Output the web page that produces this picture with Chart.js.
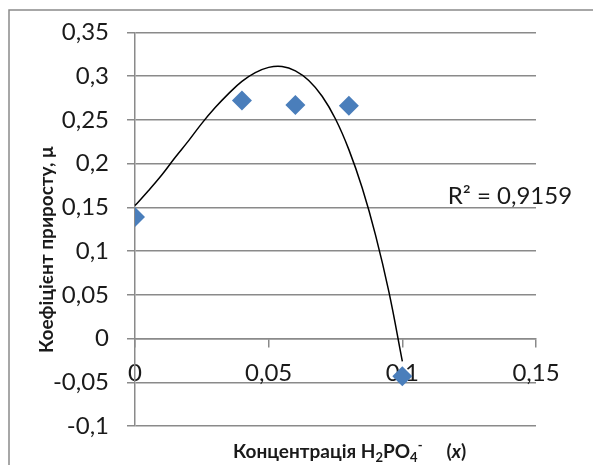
<!DOCTYPE html>
<html>
<head>
<meta charset="utf-8">
<script src="https://cdn.jsdelivr.net/npm/chart.js@4"></script>
<style>
  body { margin: 0; background: #fff; }
  canvas { display: block; }
</style>
</head>
<body>
<canvas id="grafico" width="593" height="465"></canvas>
<script>
// Дані точок
const concentration = [0, 0.04, 0.06, 0.08, 0.1];
const growthRate = [0.139, 0.272, 0.267, 0.266, -0.043];

// Лінія тренду, зчитана з рисунка через кожні 0,005
const trendX = [0, 0.005, 0.01, 0.015, 0.02, 0.025, 0.03, 0.035, 0.04, 0.045, 0.05,
  0.055, 0.06, 0.065, 0.07, 0.075, 0.08, 0.085, 0.09, 0.095, 0.1];
const trendY = [0.152, 0.169, 0.187, 0.207, 0.226, 0.246, 0.264, 0.28, 0.294, 0.304, 0.31,
  0.311, 0.306, 0.295, 0.277, 0.251, 0.216, 0.172, 0.118, 0.053, -0.026];

// Підписи осей
const xTicks = [0, 0.05, 0.1, 0.15];
const yTicks = [-0.1, -0.05, 0, 0.05, 0.1, 0.15, 0.2, 0.25, 0.3, 0.35];
const r2Label = "R² = 0,9159";
const yTitle = "Коефіцієнт приросту, μ";

const FONT = "Lato, 'Open Sans', sans-serif";
const GRID = "#8a8a8a";
const TEXT = "#1a1a1a";

// 0.05 -> "0,05"
function fmt(v) {
  return String(Math.round(v * 100) / 100).replace(".", ",");
}

// Рамка, R², назви осей
const extras = {
  id: "extras",
  beforeDraw(chart) {
    const ctx = chart.ctx;
    ctx.save();
    ctx.strokeStyle = GRID;
    ctx.lineWidth = 1.5;
    ctx.beginPath();
    ctx.moveTo(9, 465);
    ctx.lineTo(9, 10);
    ctx.lineTo(593, 10);
    ctx.stroke();
    ctx.restore();
  },
  afterDraw(chart) {
    const ctx = chart.ctx;
    const { x, y } = chart.scales;
    ctx.save();
    ctx.fillStyle = TEXT;
    ctx.textBaseline = "alphabetic";
    ctx.textAlign = "left";

    // коефіцієнт детермінації
    ctx.font = "24px " + FONT;
    ctx.fillText(r2Label, x.getPixelForValue(0.117), y.getPixelForValue(0.154));

    // назва осі X з індексами
    const parts = [
      { t: "Концентрація H", f: "bold 19px", dy: 0 },
      { t: "2", f: "bold 13px", dy: 4 },
      { t: "PO", f: "bold 19px", dy: 0 },
      { t: "4", f: "bold 13px", dy: 4 },
      { t: "-", f: "bold 13px", dy: -8 },
      { t: "(", f: "bold 19px", dy: 0, gap: 24 },
      { t: "x", f: "italic bold 19px", dy: 0 },
      { t: ")", f: "bold 19px", dy: 0 },
    ];
    let cx = 233;
    parts.forEach((p) => {
      cx += p.gap || 0;
      ctx.font = p.f + " " + FONT;
      ctx.fillText(p.t, cx, 458 + p.dy);
      cx += ctx.measureText(p.t).width;
    });

    // назва осі Y
    ctx.translate(53, 353);
    ctx.rotate(-Math.PI / 2);
    ctx.font = "bold 19px " + FONT;
    ctx.fillText(yTitle, 0, 0);
    ctx.restore();
  },
};

new Chart(document.getElementById("grafico"), {
  type: "scatter",
  data: {
    datasets: [
      {
        label: "μ",
        data: concentration.map((c, i) => ({ x: c, y: growthRate[i] })),
        pointStyle: "rectRot",
        pointRadius: 10,
        pointBorderWidth: 0,
        backgroundColor: "#4a7ebb",
        borderColor: "#4a7ebb",
      },
      {
        label: "тренд",
        data: trendX.map((c, i) => ({ x: c, y: trendY[i] })),
        showLine: true,
        pointRadius: 0,
        borderColor: "#000",
        borderWidth: 1.5,
        tension: 0.4,
        clip: false,
      },
    ],
  },
  options: {
    responsive: false,
    devicePixelRatio: 1,
    animation: false,
    events: [],
    layout: { padding: { left: 0, top: 27, right: 57, bottom: 39 } },
    plugins: { legend: { display: false }, tooltip: { enabled: false } },
    scales: {
      x: {
        type: "linear",
        position: { y: 0 },
        min: 0,
        max: 0.15,
        afterBuildTicks: (s) => {
          s.ticks = xTicks.map((v) => ({ value: v }));
        },
        grid: { drawOnChartArea: false, color: GRID, lineWidth: 1.5, tickLength: 8 },
        border: { color: GRID, width: 1.5 },
        ticks: {
          font: { family: FONT, size: 24 },
          color: TEXT,
          padding: 12,
          maxRotation: 0,
          callback: (v) => fmt(v),
        },
      },
      y: {
        min: -0.1,
        max: 0.35,
        afterBuildTicks: (s) => {
          s.ticks = yTicks.map((v) => ({ value: v }));
        },
        afterFit: (s) => {
          s.width = 135;
        },
        grid: { color: GRID, lineWidth: 1.5, tickLength: 8 },
        border: { color: GRID, width: 1.5 },
        ticks: {
          font: { family: FONT, size: 24 },
          color: TEXT,
          padding: 18,
          callback: (v) => fmt(v),
        },
      },
    },
  },
  plugins: [extras],
});
</script>
</body>
</html>
